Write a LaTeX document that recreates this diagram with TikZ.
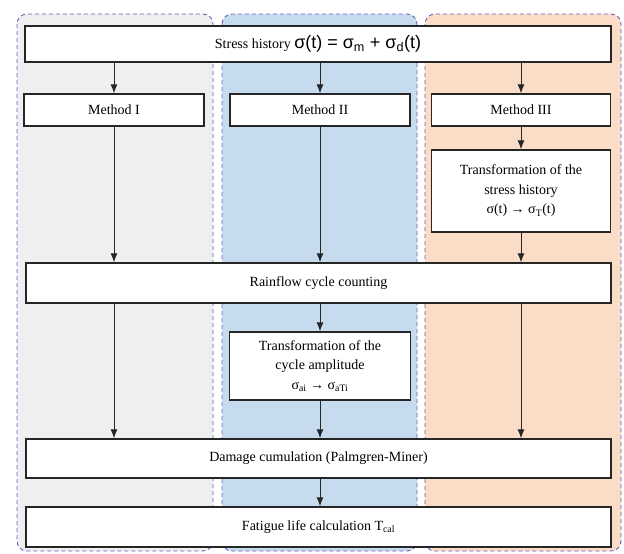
\documentclass[tikz,border=0pt]{standalone}
\usepackage{fontspec}
\setmainfont{Liberation Serif}
\newfontfamily\formfont{Liberation Sans}
\usepackage{tikz}
\usetikzlibrary{arrows.meta,positioning,calc}
\definecolor{lanegray}{HTML}{EEEFF0}
\definecolor{laneblue}{HTML}{C7DBEF}
\definecolor{lanepeach}{HTML}{FBDCC7}
\definecolor{laneedge}{HTML}{6A5CC0}
\tikzset{
  lane/.style={draw=laneedge,dash pattern=on 4pt off 3pt,line width=0.9pt,rounded corners=10pt},
  stepbox/.style={draw=black!85,line width=1.3pt,fill=white,inner sep=0pt,align=center,font=\fontsize{14}{19.5}\selectfont},
  flowarr/.style={-{Latex[length=9pt,width=7pt]},line width=1pt,draw=black!85}
}
\begin{document}
\begin{tikzpicture}[x=1pt,y=-1pt]
\useasboundingbox (0,0) rectangle (624,554);
% lanes
\filldraw[lane,fill=lanegray] (17,14) rectangle (213,551);
\filldraw[lane,fill=laneblue] (222,14) rectangle (417,551);
\filldraw[lane,fill=lanepeach] (425,14) rectangle (621,551);
% boxes
\node[stepbox,minimum width=586,minimum height=36] (hist) at (318,44) {Stress history {\formfont\fontsize{18}{20}\selectfont σ(t) = σ\textsubscript{m} + σ\textsubscript{d}(t)}};
\node[stepbox,minimum width=180,minimum height=32] (m1) at (114,110) {Method I};
\node[stepbox,minimum width=180,minimum height=32] (m2) at (320,110) {Method II};
\node[stepbox,minimum width=179,minimum height=32] (m3) at (521,110) {Method III};
\node[stepbox,minimum width=179,minimum height=82] (tr3) at (521,191) {Transformation of the\\stress history\\σ(t) → σ\textsubscript{T}(t)};
\node[stepbox,minimum width=585,minimum height=40] (rain) at (318.5,283) {Rainflow cycle counting};
\node[stepbox,minimum width=181,minimum height=68] (tr2) at (320,366) {Transformation of the\\cycle amplitude\\σ\textsubscript{ai} → σ\textsubscript{aTi}};
\node[stepbox,minimum width=585,minimum height=39] (dmg) at (318.5,458.5) {Damage cumulation (Palmgren-Miner)};
\node[stepbox,minimum width=585,minimum height=40] (life) at (318.5,527) {Fatigue life calculation T\textsubscript{cal}};
% arrows
\foreach \m in {m1,m2,m3}{\draw[flowarr] (\m |- hist.south) -- (\m.north);}
\draw[flowarr] (m1.south) -- (m1 |- rain.north);
\draw[flowarr] (m2.south) -- (m2 |- rain.north);
\draw[flowarr] (m3.south) -- (tr3.north);
\draw[flowarr] (tr3.south) -- (tr3 |- rain.north);
\draw[flowarr] (m1 |- rain.south) -- (m1 |- dmg.north);
\draw[flowarr] (tr2 |- rain.south) -- (tr2.north);
\draw[flowarr] (tr2.south) -- (tr2 |- dmg.north);
\draw[flowarr] (m3 |- rain.south) -- (m3 |- dmg.north);
\draw[flowarr] (dmg.south -| tr2) -- (tr2 |- life.north);
\end{tikzpicture}
\end{document}
